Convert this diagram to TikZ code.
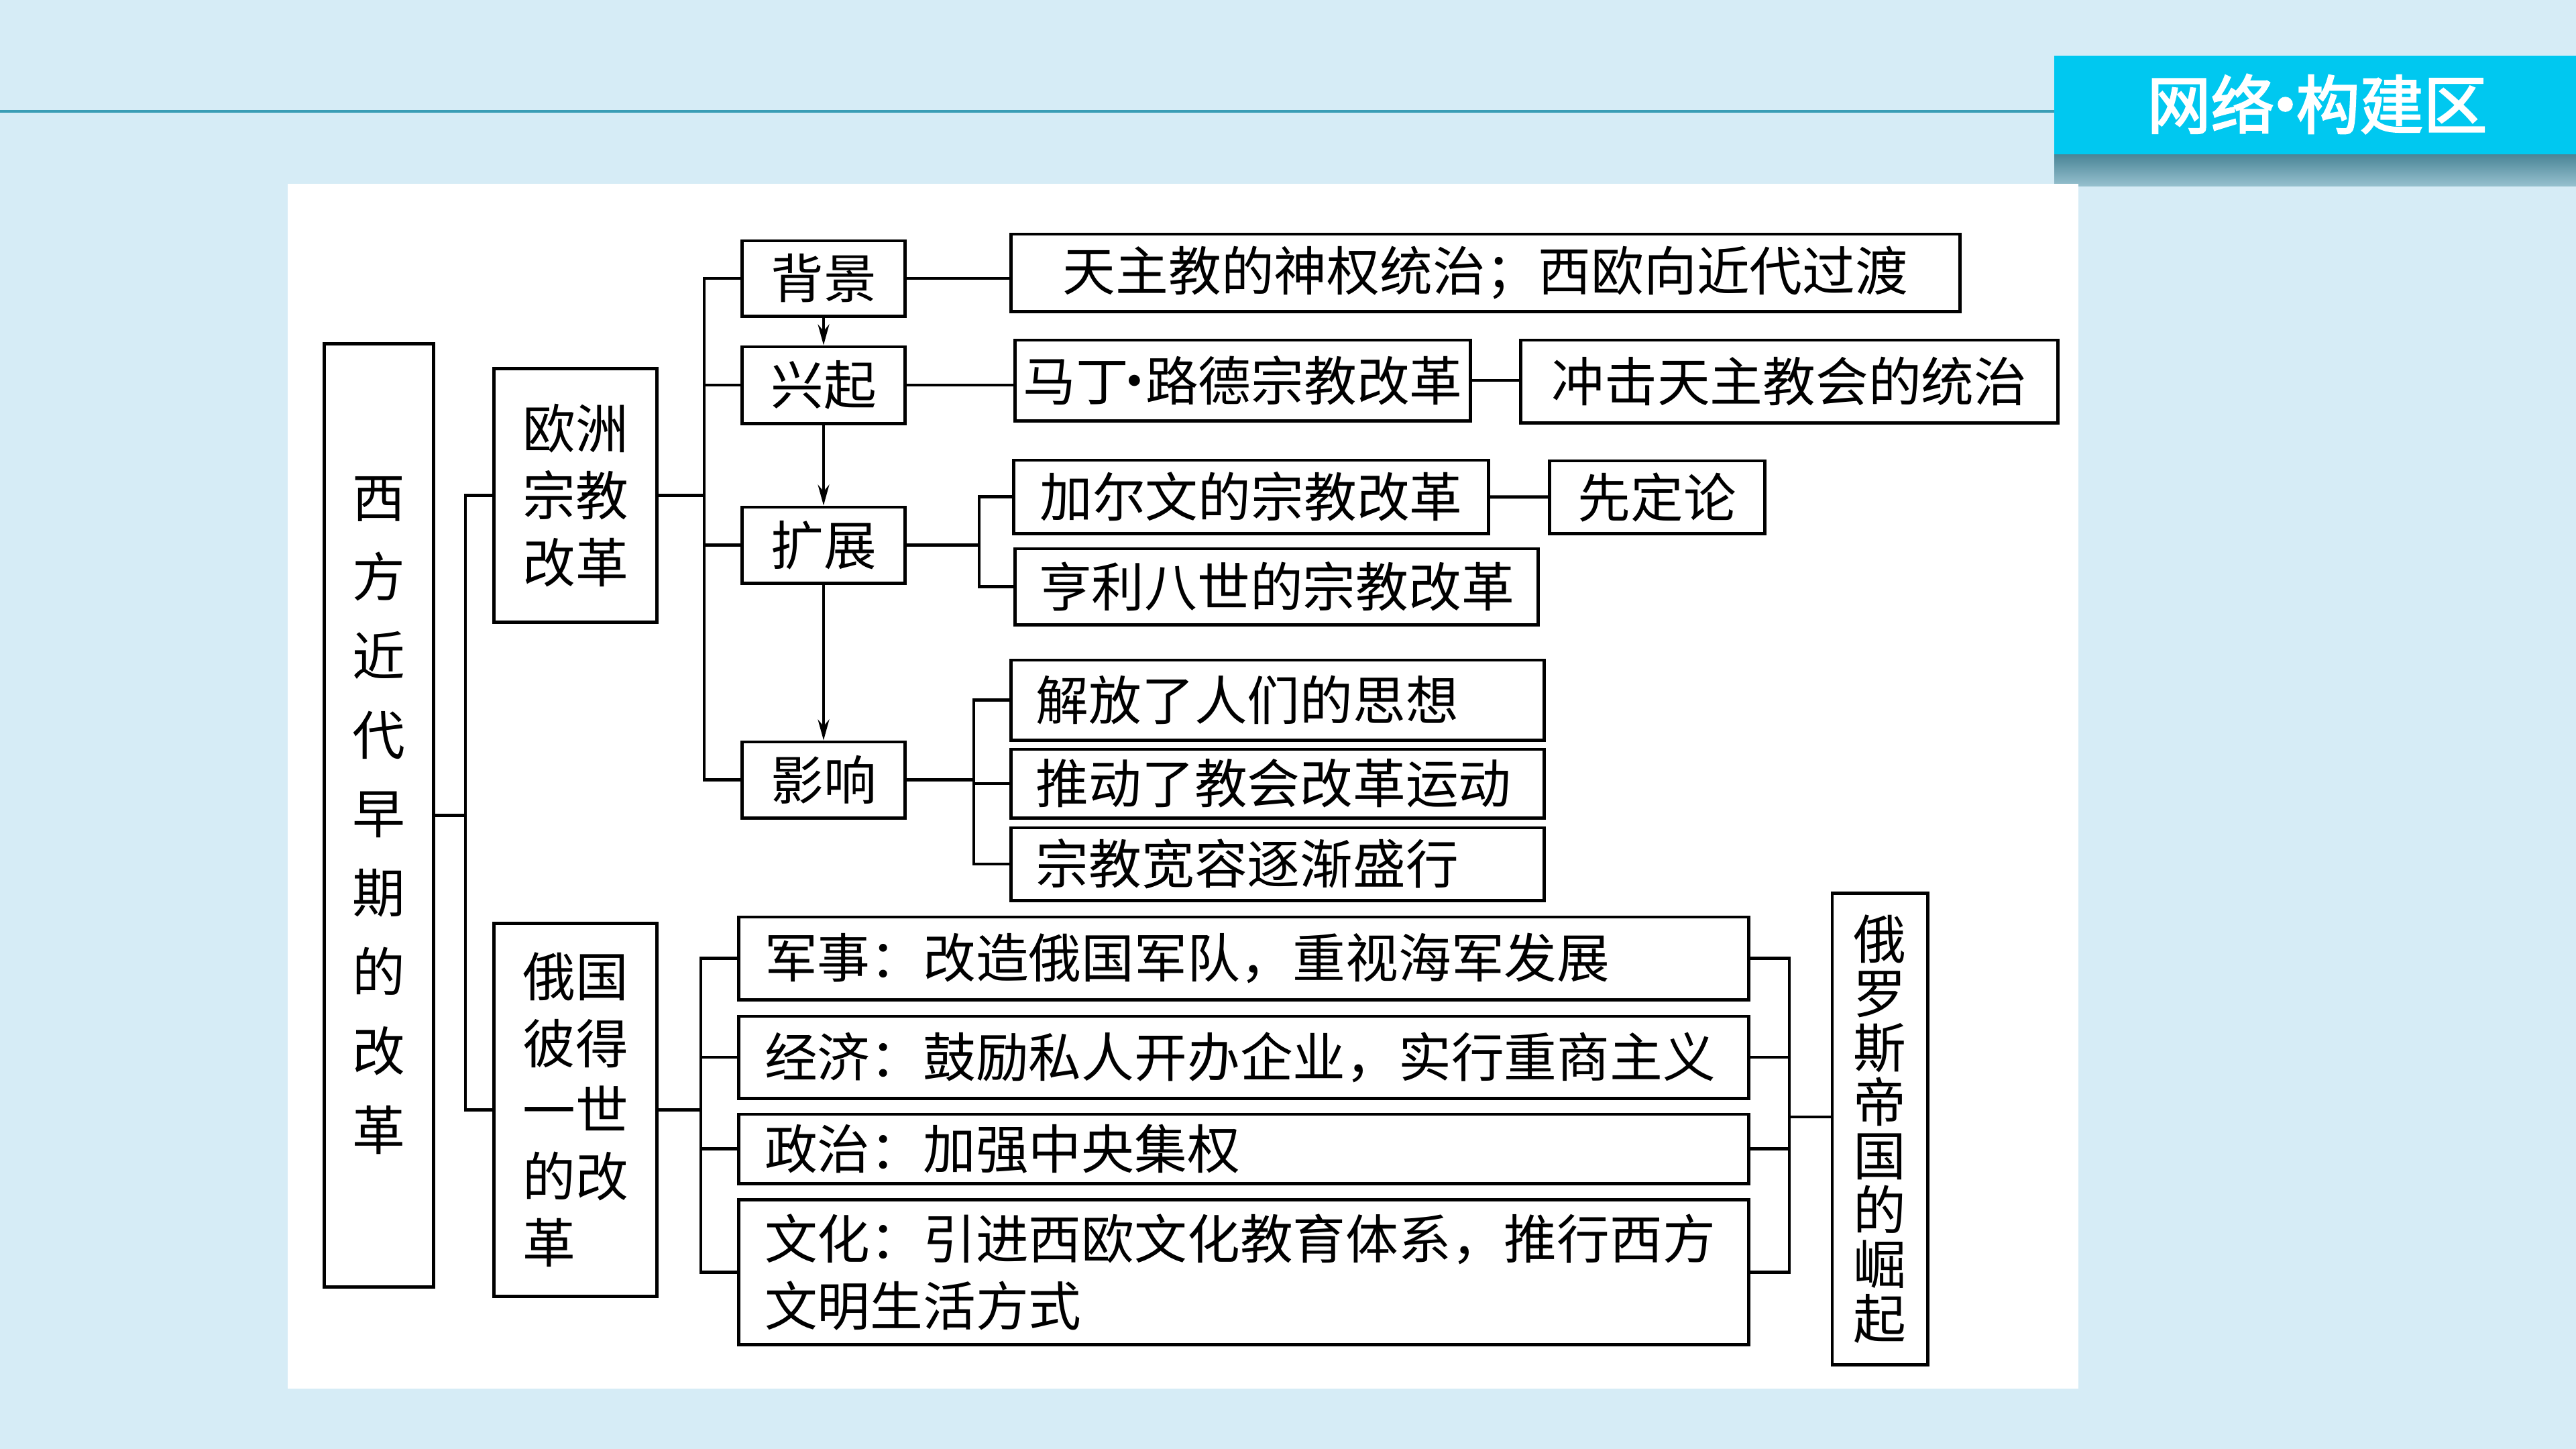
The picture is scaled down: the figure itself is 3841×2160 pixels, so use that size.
\documentclass[tikz,border=0pt]{standalone}
\usepackage{fontspec}
\usepackage{tikz}
\usetikzlibrary{arrows.meta,positioning,calc}
\newfontfamily\cjk{Noto Sans CJK SC}
\newfontfamily\cjkbold[FakeBold=2.5]{Noto Sans CJK SC}
\definecolor{bgblue}{RGB}{214,236,246}
\definecolor{rulecol}{RGB}{58,157,181}
\definecolor{bannercyan}{RGB}{0,200,240}
\definecolor{shadowtop}{RGB}{70,130,148}
\definecolor{shadowbot}{RGB}{150,192,206}

\begin{document}
\begin{tikzpicture}[x=0.01cm, y=-0.01cm, line width=1.4pt,
    box/.style 2 args={draw, fill=white, inner sep=0pt, align=center, minimum width=#1cm, minimum height=#2cm,
        font=\cjk\fontsize{22.4}{28.4}\selectfont},
    lbox/.style={align=left, text width=#1cm},
    arr/.style={line width=1pt, -{Stealth[length=0.31cm, width=0.17cm]}}]
    \useasboundingbox (0,0) rectangle (3841,2160);
    \fill[bgblue] (0,0) rectangle (3841,2160);
    \draw[rulecol, line width=1pt] (0,166) -- (3063,166);
    \shade[top color=shadowtop, bottom color=shadowbot] (3063,228) rectangle (3841,277);
    \fill[bannercyan] (3063,83) rectangle (3841,230);
    \node[text=white, font=\cjkbold\fontsize{27}{32}\selectfont] (title) at (3455,155)
        {网络\hspace{-0.33em}·\hspace{-0.33em}构建区};
    \fill[white] (429,274) rectangle (3099,2070);

    \node[box={1.62}{14.05}, font=\cjk\fontsize{22.4}{33.5}\selectfont] (xifang) at (565,1215.5)
        {西\\方\\近\\代\\早\\期\\的\\改\\革};
    \node[box={2.42}{3.77}] (ouzhou) at (858,738.5) {欧洲\\宗教\\改革};
    \node[box={2.42}{5.55}, align=left, font=\cjk\fontsize{22.4}{28.2}\selectfont] (eguo) at (858,1654.5)
        {俄国\\彼得\\一世\\的改\\革};

    \node[box={2.42}{1.12}] (beijing) at (1228,415) {背景};
    \node[box={2.42}{1.14}] (xingqi) at (1228,574) {兴起};
    \node[box={2.42}{1.13}] (kuozhan) at (1228,812.5) {扩展};
    \node[box={2.42}{1.13}] (yingxiang) at (1228,1162.5) {影响};

    \node[box={14.14}{1.15}] (tianzhu) at (2215,406.5) {天主教的神权统治；西欧向近代过渡};
    \node[box={6.78}{1.20}] (luther) at (1853,567) {马丁\hspace{-0.38em}·\hspace{-0.3em}路德宗教改革};
    \node[box={8.00}{1.23}] (chongji) at (2668,568.5) {冲击天主教会的统治};
    \node[box={7.07}{1.09}] (calvin) at (1865.5,740.5) {加尔文的宗教改革};
    \node[box={3.20}{1.08}] (xianding) at (2471,741) {先定论};
    \node[box={7.79}{1.13}] (henry) at (1903.5,874.5) {亨利八世的宗教改革};
    \node[box={7.94}{1.19}, lbox=7.2] (jiefang) at (1905,1043.5) {解放了人们的思想};
    \node[box={7.94}{1.02}, lbox=7.2] (tuidong) at (1905,1168) {推动了教会改革运动};
    \node[box={7.94}{1.08}, lbox=7.2] (kuanrong) at (1905,1288) {宗教宽容逐渐盛行};

    \node[box={15.05}{1.23}, lbox=14.28] (junshi) at (1854.5,1428.5) {军事：改造俄国军队，重视海军发展};
    \node[box={15.05}{1.22}, lbox=14.28] (jingji) at (1854.5,1576) {经济：鼓励私人开办企业，实行重商主义};
    \node[box={15.05}{1.03}, lbox=14.28] (zhengzhi) at (1854.5,1712.5) {政治：加强中央集权};
    \node[box={15.05}{2.15}, lbox=14.28] (wenhua) at (1854.5,1896.5)
        {文化：引进西欧文化教育体系，推行西方\\文明生活方式};
    \node[box={1.42}{7.02}, font=\cjk\fontsize{22.4}{23}\selectfont] (eluosi) at (2803,1683)
        {俄\\罗\\斯\\帝\\国\\的\\崛\\起};

    \coordinate (j1) at (694,1215.5);
    \coordinate (j2) at (1050,738.5);
    \coordinate (j3) at (1460,812.5);
    \coordinate (j4) at (1452,1162.5);
    \coordinate (j5) at (1045,1654.5);
    \coordinate (j6) at (2668,1665);

    \draw (xifang) -- (j1);
    \draw (ouzhou.west) -| (j1) |- (eguo.west);
    \draw (ouzhou) -- (j2);
    \draw (beijing.west) -| (j2) |- (yingxiang.west);
    \draw (j2) |- (xingqi.west);
    \draw (j2) |- (kuozhan.west);
    \draw[arr] (beijing) -- (xingqi);
    \draw[arr] (xingqi) -- (kuozhan);
    \draw[arr] (kuozhan) -- (yingxiang);

    \draw (beijing.east) -- (beijing.east -| tianzhu.west);
    \draw (xingqi.east) -- (xingqi.east -| luther.west);
    \draw (luther.east) -- (luther.east -| chongji.west);
    \draw (kuozhan) -- (j3);
    \draw (calvin.west) -| (j3) |- (henry.west);
    \draw (calvin) -- (xianding);
    \draw (yingxiang) -- (j4);
    \draw (jiefang.west) -| (j4) |- (kuanrong.west);
    \draw (j4) |- (tuidong.west);

    \draw (eguo) -- (j5);
    \draw (junshi.west) -| (j5) |- (wenhua.west);
    \draw (j5) |- (jingji.west);
    \draw (j5) |- (zhengzhi.west);
    \draw (junshi.east) -| (j6) |- (wenhua.east);
    \draw (jingji.east) -- (jingji.east -| j6);
    \draw (zhengzhi.east) -- (zhengzhi.east -| j6);
    \draw (j6) -- (j6 -| eluosi.west);
\end{tikzpicture}
\end{document}
